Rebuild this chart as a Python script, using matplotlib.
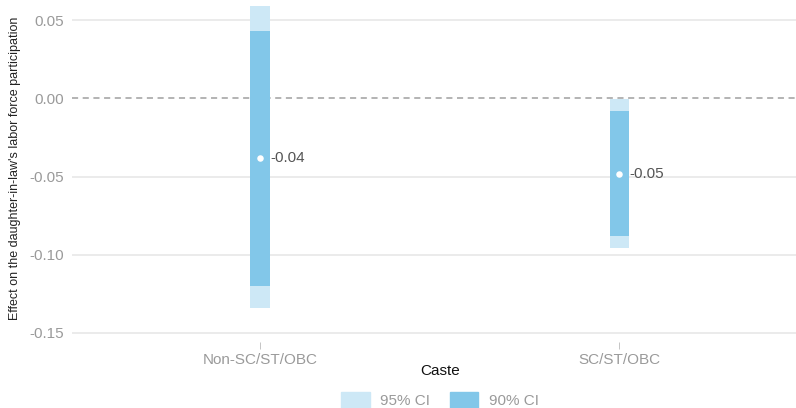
import matplotlib
matplotlib.use("Agg")
import matplotlib.pyplot as plt
from matplotlib.patches import Patch

plt.rcParams['font.family'] = ['Liberation Sans', 'DejaVu Sans']

# Estimates by caste group
castes = ["Non-SC/ST/OBC", "SC/ST/OBC"]
estimate = [-0.038, -0.048]
ci90_low = [-0.120, -0.088]
ci90_high = [0.0433, -0.0078]
ci95_low = [-0.1343, -0.0955]
ci95_high = [0.0592, -0.0003]
yticks = [0.05, 0.00, -0.05, -0.10, -0.15]

c95 = "#cde8f6"
c90 = "#82c7e9"
grey = "#9a9a9a"

fig = plt.figure(figsize=(7.96, 4.08), dpi=100)
ax = fig.add_axes([72 / 796, 1 - 342 / 408, 1 - 72 / 796, 342 / 408])
ax.set_axisbelow(True)

xs = list(range(1, len(castes) + 1))
w = 0.054
for i, x in enumerate(xs):
    ax.bar(x, ci95_high[i] - ci95_low[i], bottom=ci95_low[i], width=w,
           color=c95, zorder=2)
    ax.bar(x, ci90_high[i] - ci90_low[i], bottom=ci90_low[i], width=w,
           color=c90, zorder=3)
    ax.scatter(x, estimate[i], s=22, color="white", zorder=4, linewidths=0)
    ax.text(x + 0.028, estimate[i], f"{estimate[i]:.2f}", va="center",
            ha="left", fontsize=11, color="#555555", zorder=5)

# dashed reference line at zero, on top of the grid
ax.axhline(0, color="white", lw=1.4, zorder=1)
ax.axhline(0, color="#a0a0a0", lw=1.1, ls=(0, (4, 3)), zorder=1.5)

ax.set_xlim(0.477, 2.492)
ax.set_ylim(-0.1558, 0.063)
ax.set_yticks(yticks)
ax.set_yticklabels([f"{v:.2f}" for v in yticks])
ax.set_xticks(xs)
ax.set_xticklabels(castes)
ax.grid(axis="y", color="#e6e6e6", lw=1.1)
for s in ax.spines.values():
    s.set_visible(False)
ax.tick_params(axis="y", length=0, labelsize=11, labelcolor=grey, pad=6)
ax.tick_params(axis="x", length=5, width=0.6, color="#bbbbbb",
               labelsize=11, labelcolor=grey, pad=3)

fig.text(15 / 796, 1 - 168 / 408,
         "Effect on the daughter-in-law's labor force participation",
         rotation=90, ha="center", va="center", fontsize=9, color="#222222")
fig.text(440 / 796, 1 - 371 / 408, "Caste", ha="center", va="center",
         fontsize=11, color="#111111")

handles = [Patch(color=c95, label="95% CI"), Patch(color=c90, label="90% CI")]
leg = fig.legend(handles=handles, loc="center", ncol=2,
                 bbox_to_anchor=(440 / 796, 1 - 400 / 408), frameon=False,
                 fontsize=11, handlelength=1.85, handleheight=1.2,
                 columnspacing=1.25, handletextpad=0.7)
for t in leg.get_texts():
    t.set_color(grey)

fig.savefig("out.png", dpi=100)
